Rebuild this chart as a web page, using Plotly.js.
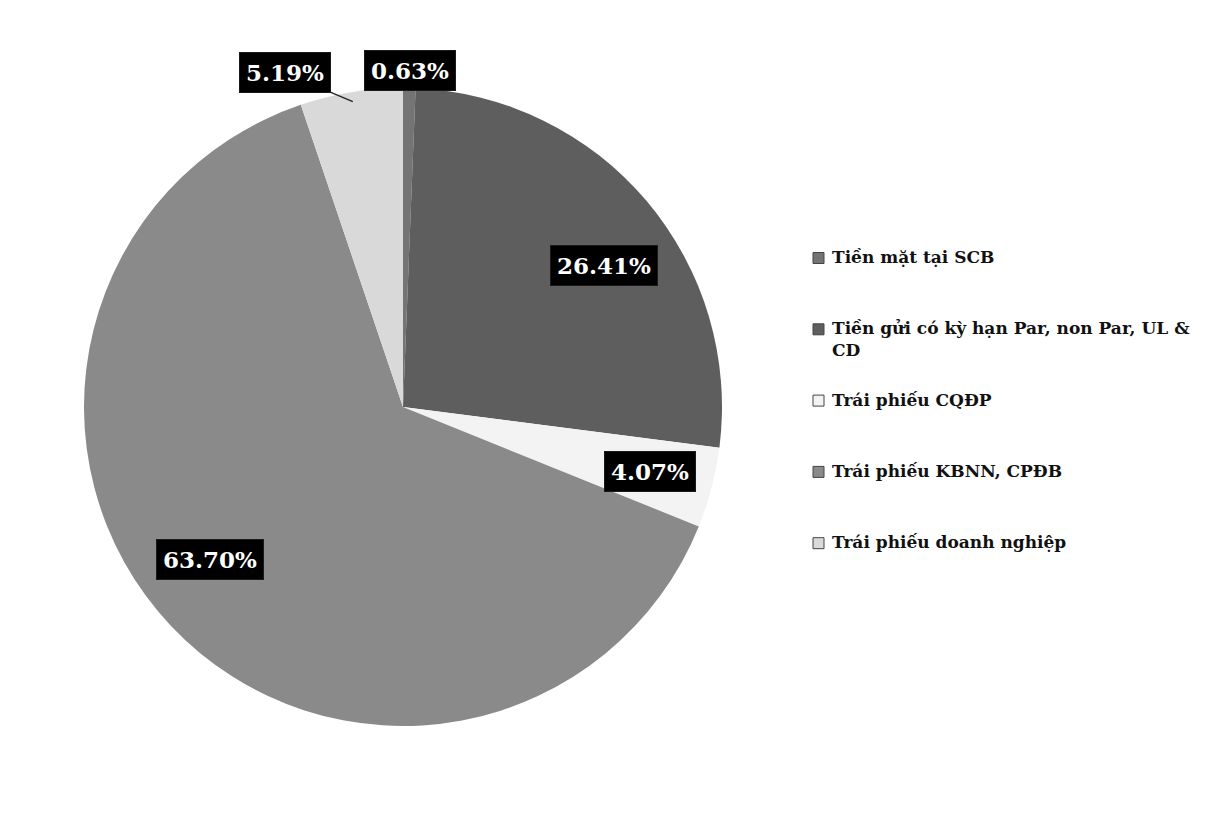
<!DOCTYPE html>
<html>
<head>
<meta charset="utf-8">
<script src="https://cdn.plot.ly/plotly-3.0.1.min.js"></script>
<style>
  html, body { margin: 0; padding: 0; background: #ffffff; }
  #chart { width: 1218px; height: 813px; }
</style>
</head>
<body>
<div id="chart"></div>
<script>
// ---- data ----
const categories = [
  'Tiền mặt tại SCB',
  'Tiền gửi có kỳ hạn Par, non Par, UL & CD',
  'Trái phiếu CQĐP',
  'Trái phiếu KBNN, CPĐB',
  'Trái phiếu doanh nghiệp'
];
const legendLabels = [
  'Tiền mặt tại SCB',
  'Tiền gửi có kỳ hạn Par, non Par, UL &<br>CD',
  'Trái phiếu CQĐP',
  'Trái phiếu KBNN, CPĐB',
  'Trái phiếu doanh nghiệp'
];
const shares = [0.63, 26.41, 4.07, 63.70, 5.19];
const sliceColors = ['#747474', '#5e5e5e', '#f3f3f3', '#8a8a8a', '#d9d9d9'];

// ---- geometry (pixels) ----
const W = 1218, H = 813;
const cx = 403, cy = 407, R = 319;
const px2x = p => p / W;
const px2y = p => 1 - p / H;

const serif = 'DejaVu Serif, Liberation Serif, serif';

// ---- pie labels from data ----
const total = shares.reduce((a, b) => a + b, 0);
const annotations = [];
let cum = 0;
shares.forEach((v, i) => {
  const midDeg = (cum + v / 2) / total * 360;
  cum += v;
  const text = v.toFixed(2) + '%';
  const base = {
    text: text, xref: 'paper', yref: 'paper',
    font: {family: serif, size: 23, color: '#ffffff', weight: 'bold'},
    bgcolor: '#000000', bordercolor: '#1a1a1a', borderwidth: 1, borderpad: 6
  };
  const onTop = Math.cos(midDeg * Math.PI / 180) > 0.9 && v < 6;
  if (!onTop) {
    // best-fit inside placement: large slices nudged clockwise
    const ang = (midDeg + (v > 20 ? 5 : 0)) * Math.PI / 180;
    const r = (v > 20 ? 0.77 : 0.80) * R;
    const px = cx + r * Math.sin(ang), py = cy - r * Math.cos(ang);
    annotations.push(Object.assign({}, base, {
      x: px2x(px), y: px2y(py), xanchor: 'center', yanchor: 'middle', showarrow: false
    }));
  } else {
    const ang = midDeg * Math.PI / 180;
    const r = 0.97 * R;
    const px = cx + r * Math.sin(ang), py = cy - r * Math.cos(ang);
    const leftSide = Math.sin(ang) < -0.05;
    annotations.push(Object.assign({}, base, {
      x: px2x(px), y: px2y(py), showarrow: true, arrowhead: 0,
      arrowcolor: leftSide ? '#222222' : 'rgba(0,0,0,0)', arrowwidth: 1.2,
      ax: leftSide ? -68 : 1, ay: leftSide ? -29 : -27,
      xanchor: 'center', yanchor: 'middle', standoff: 0, startstandoff: 0
    }));
  }
});

// ---- legend (built from categories) ----
const shapes = [];
const legTop = 258, legStep = 71.3, legTextX = 830, swX0 = 813, swSize = 11;
legendLabels.forEach((lab, i) => {
  const yc = legTop + i * legStep;
  annotations.push({
    text: lab, xref: 'paper', yref: 'paper',
    x: px2x(legTextX), y: px2y(yc - 13), xanchor: 'left', yanchor: 'top',
    align: 'left', showarrow: false,
    font: {family: serif, size: 17, color: '#111111', weight: 'bold'}
  });
  shapes.push({
    type: 'rect', xref: 'paper', yref: 'paper',
    x0: px2x(swX0), x1: px2x(swX0 + swSize),
    y0: px2y(yc - swSize / 2), y1: px2y(yc + swSize / 2),
    fillcolor: sliceColors[i], line: {color: '#444444', width: 1}
  });
});

const trace = {
  type: 'pie',
  labels: categories,
  values: shares,
  sort: false,
  direction: 'clockwise',
  rotation: 0,
  textinfo: 'none',
  hoverinfo: 'label+percent',
  showlegend: false,
  marker: {colors: sliceColors, line: {color: '#ffffff', width: 0}},
  domain: {x: [px2x(cx - R), px2x(cx + R)], y: [px2y(cy + R), px2y(cy - R)]}
};

const layout = {
  width: W, height: H,
  margin: {l: 0, r: 0, t: 0, b: 0},
  paper_bgcolor: '#ffffff',
  plot_bgcolor: '#ffffff',
  showlegend: false,
  annotations: annotations,
  shapes: shapes
};

Plotly.newPlot('chart', [trace], layout, {displayModeBar: false, staticPlot: true});
</script>
</body>
</html>
